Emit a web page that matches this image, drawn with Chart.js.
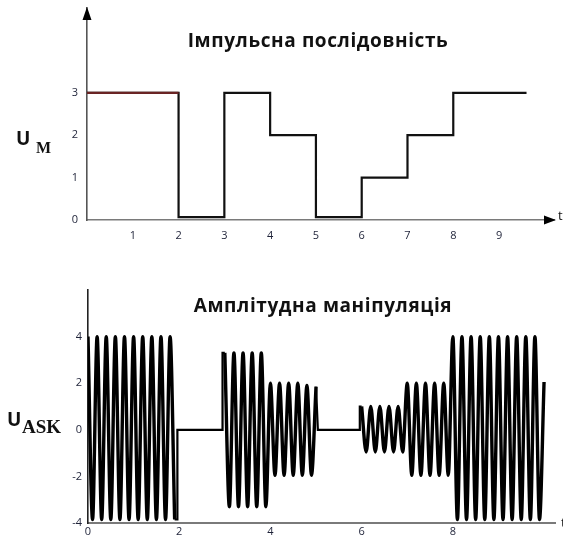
<!DOCTYPE html>
<html>
<head>
<meta charset="utf-8">
<script src="https://cdn.jsdelivr.net/npm/chart.js@4.4.1/dist/chart.umd.min.js"></script>
<style>
  html, body { margin: 0; padding: 0; background: #fff; width: 563px; height: 538px; overflow: hidden; }
  #wrap { position: relative; width: 563px; height: 538px; }
  canvas { position: absolute; left: 0; }
  #pulseCanvas { top: 0; }
  #askCanvas { top: 260px; }
  .txt { position: absolute; white-space: nowrap; line-height: 1; color: #111; }
  .title { font-family: 'Open Sans', sans-serif; font-weight: 700; font-size: 19px; letter-spacing: 0.6px; transform: translateX(-50%); }
  .u { font-family: 'Open Sans', sans-serif; font-weight: 700; font-size: 19px; }
  .sub { font-family: 'Liberation Serif', serif; font-weight: 700; }
  .t { font-family: 'Open Sans', sans-serif; font-size: 13px; }
</style>
</head>
<body>
<div id="wrap">
  <canvas id="pulseCanvas" width="563" height="260"></canvas>
  <canvas id="askCanvas" width="563" height="278"></canvas>

  <div class="txt title" style="left:318px; top:31px;">Імпульсна послідовність</div>
  <div class="txt title" style="left:323px; top:296px;">Амплітудна маніпуляція</div>

  <div class="txt u" style="left:16px; top:129px;">U</div>
  <div class="txt sub" style="left:36px; top:140px; font-size:16px;">M</div>
  <div class="txt u" style="left:7px; top:410px;">U</div>
  <div class="txt sub" style="left:22px; top:417px; font-size:19px;">ASK</div>

  <div class="txt t" style="left:558px; top:209px;">t</div>
  <div class="txt t" style="left:561px; top:516px;">t</div>
</div>

<script>
// ---- pulse sequence (top chart) ----
const pulseTimes = [0, 2, 3, 4, 5, 6, 7, 8, 9.6];
const pulseLevels = [3, 0.07, 3, 2, 0.07, 1, 2, 3, 3];
const pulseXTicks = [1, 2, 3, 4, 5, 6, 7, 8, 9];
const pulseYTicks = [0, 1, 2, 3];

// ---- ASK signal (bottom chart), peaks and troughs ----
const askHalfPeriod = 0.1;
const askWaveAStart = 0;
const askWaveAValues = [4, -3.85, 4, -3.85, 4, -3.85, 4, -3.85, 4, -3.85,
                        4, -3.85, 4, -3.85, 4, -3.85, 4, -3.85, 4, -3.85];
const askWaveBStart = 3;
const askWaveBValues = [3.3, -3.3, 3.3, -3.3, 3.3, -3.3, 3.3, -3.3, 3.3, -3.3,
                        2, -1.95, 2, -1.95, 2, -1.95, 2, -1.95, 1.9, -1.95, 1.85];
const askWaveCStart = 6;
const askWaveCValues = [1, -0.95, 1, -0.95, 1, -0.95, 1, -0.95, 1, -0.95,
                        2, -1.95, 2, -1.95, 2, -1.95, 2, -1.95, 2, -1.95,
                        4, -3.85, 4, -3.85, 4, -3.85, 4, -3.85, 4, -3.85,
                        4, -3.85, 4, -3.85, 4, -3.85, 4, -3.85, 4, -3.85, 2.05];
// pauses between the bursts (level 0) with their jumps
const askGapATimes = [1.9, 1.96, 1.96, 2.95, 2.95, 3.0];
const askGapAValues = [-3.85, -3.85, 0, 0, 3.3, 3.3];
const askGapBTimes = [5.0, 5.04, 5.96, 5.96, 6.0];
const askGapBValues = [1.85, 0, 0, 1, 1];
const askXTicks = [0, 2, 4, 6, 8];
const askYTicks = [-4, -2, 0, 2, 4];

const tickFont = { family: 'Open Sans', size: 11 };
const tickColor = '#1e2238';

function toPoints(times, values) {
  return times.map((t, i) => ({ x: t, y: values[i] }));
}

function wavePoints(start, values) {
  return values.map((v, i) => ({ x: start + i * askHalfPeriod, y: v }));
}

function fixedTicks(list) {
  return (scale) => { scale.ticks = list.map(v => ({ value: v })); };
}

// fixed axis size and no extra label padding, so the plot area sits where the picture has it
function fitAxis(size) {
  return (scale) => {
    if (scale.isHorizontal()) scale.height = size; else scale.width = size;
    scale.paddingTop = 0;
    scale.paddingBottom = 0;
    scale.paddingLeft = 0;
    scale.paddingRight = 0;
  };
}

// arrows at the ends of the axes
const axisArrows = {
  id: 'axisArrows',
  afterDraw(chart) {
    const { ctx, chartArea } = chart;
    ctx.save();
    ctx.fillStyle = '#000';
    ctx.beginPath();
    ctx.moveTo(chartArea.left, chartArea.top - 1);
    ctx.lineTo(chartArea.left - 4.5, chartArea.top + 12);
    ctx.lineTo(chartArea.left + 4.5, chartArea.top + 12);
    ctx.closePath();
    ctx.fill();
    ctx.beginPath();
    ctx.moveTo(chartArea.right + 2, chartArea.bottom);
    ctx.lineTo(chartArea.right - 10, chartArea.bottom - 4.5);
    ctx.lineTo(chartArea.right - 10, chartArea.bottom + 4.5);
    ctx.closePath();
    ctx.fill();
    ctx.restore();
  }
};

new Chart(document.getElementById('pulseCanvas'), {
  type: 'line',
  data: {
    datasets: [
      {
        data: toPoints(pulseTimes.slice(0, 2), [pulseLevels[0], pulseLevels[0]]),
        borderColor: '#6a2424',
        borderWidth: 2.2,
        pointRadius: 0
      },
      {
        data: toPoints(pulseTimes, pulseLevels),
        stepped: true,
        borderColor: '#111',
        borderWidth: 2.2,
        pointRadius: 0
      }
    ]
  },
  options: {
    responsive: false,
    animation: false,
    layout: { padding: { top: 8, right: 9, left: 0, bottom: 0 } },
    plugins: { legend: { display: false }, tooltip: { enabled: false } },
    scales: {
      x: {
        type: 'linear',
        min: 0,
        max: 10.2,
        afterBuildTicks: fixedTicks(pulseXTicks),
        afterFit: fitAxis(40),
        grid: { display: false, drawTicks: false },
        border: { color: '#7a7a7a', width: 1.6 },
        ticks: { padding: 9, font: tickFont, color: tickColor, maxRotation: 0, autoSkip: false }
      },
      y: {
        min: 0,
        max: 5,
        afterBuildTicks: fixedTicks(pulseYTicks),
        afterFit: fitAxis(87),
        grid: { display: false, drawTicks: false },
        border: { color: '#555', width: 1.6 },
        ticks: { padding: 9, font: tickFont, color: tickColor, autoSkip: false }
      }
    }
  },
  plugins: [axisArrows]
});

const waveStyle = {
  borderColor: '#000',
  borderWidth: 3.4,
  pointRadius: 0,
  cubicInterpolationMode: 'monotone'
};
const gapStyle = {
  borderColor: '#000',
  borderWidth: 2.2,
  pointRadius: 0
};

new Chart(document.getElementById('askCanvas'), {
  type: 'line',
  data: {
    datasets: [
      { data: wavePoints(askWaveAStart, askWaveAValues), ...waveStyle },
      { data: toPoints(askGapATimes, askGapAValues), ...gapStyle },
      { data: wavePoints(askWaveBStart, askWaveBValues), ...waveStyle },
      { data: toPoints(askGapBTimes, askGapBValues), ...gapStyle },
      { data: wavePoints(askWaveCStart, askWaveCValues), ...waveStyle }
    ]
  },
  options: {
    responsive: false,
    animation: false,
    layout: { padding: { top: 30, right: 8, left: 0, bottom: 0 } },
    plugins: { legend: { display: false }, tooltip: { enabled: false } },
    scales: {
      x: {
        type: 'linear',
        min: 0,
        max: 10.24,
        afterBuildTicks: fixedTicks(askXTicks),
        afterFit: fitAxis(15),
        grid: { display: false, drawTicks: false },
        border: { color: '#7a7a7a', width: 2 },
        ticks: { padding: 2, font: tickFont, color: tickColor, maxRotation: 0, autoSkip: false }
      },
      y: {
        min: -4,
        max: 6,
        afterBuildTicks: fixedTicks(askYTicks),
        afterFit: fitAxis(88),
        grid: { display: false, drawTicks: false },
        border: { color: '#222', width: 1.6 },
        ticks: { padding: 6, font: tickFont, color: tickColor, autoSkip: false }
      }
    }
  }
});
</script>
</body>
</html>
